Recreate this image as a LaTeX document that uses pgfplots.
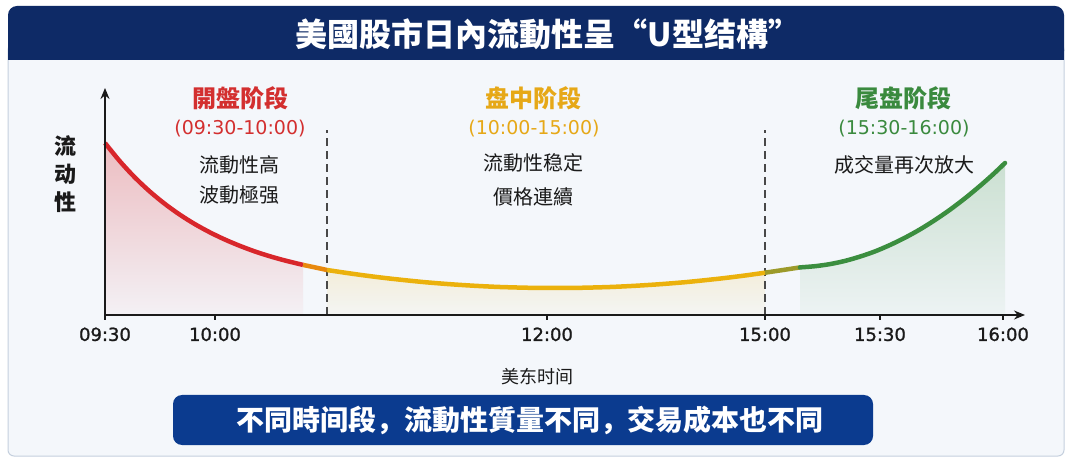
\documentclass[border=0pt]{standalone}
\usepackage{fontspec}
\usepackage{pgfplots}
\pgfplotsset{compat=1.18}
\usetikzlibrary{arrows.meta}
\setmainfont{Noto Sans CJK SC}
\newfontfamily\num{DejaVu Sans}
\newfontfamily\numb{DejaVu Sans}[FakeBold=1.2]
\definecolor{navy}{HTML}{0E2A66}
\definecolor{bannerb}{HTML}{0B3B8F}
\definecolor{panelbg}{HTML}{F4F7FB}
\definecolor{panelb}{HTML}{C5D0DE}
\definecolor{cred}{HTML}{D8262B}
\definecolor{cyel}{HTML}{EBB10C}
\definecolor{cgrn}{HTML}{3B8E3F}
\definecolor{corg}{HTML}{E8890E}
\definecolor{cog}{HTML}{9C9A2A}
\definecolor{tred}{HTML}{D32F2F}
\definecolor{tyel}{HTML}{E6A817}
\definecolor{tgrn}{HTML}{3A8A3E}
\definecolor{txt}{HTML}{1A1A1A}
\pgfplotstableread{
x y
105 172
120 153.6
135 137.4
150 123.3
165 111.0
180 100.2
195 90.8
210 82.6
225 75.4
240 69.1
255 63.5
270 58.7
285 54.5
303 50.1
}\redtab
\pgfplotstableread{
x y
303 50.1
315 47.6
327 45.0
}\orgtab
\pgfplotstableread{
x y
327 45.0
345 42.3
365 39.5
385 37.0
405 34.8
425 32.8
450 30.8
475 29.2
500 28.0
530 27.2
555 27.0
580 27.2
610 28.0
635 29.2
660 30.8
685 32.8
705 34.8
725 37.0
745 39.5
765 42.3
}\yeltab
\pgfplotstableread{
x y
765 42.3
783 45.0
800 47.6
}\ogtab
\pgfplotstableread{
x y
800 47.6
815 48.8
830 50.9
845 54.1
860 58.4
875 63.6
890 70.0
905 77.3
920 85.6
935 95.0
950 105.3
965 116.7
980 129.1
993 140.6
1005 152.0
}\grntab
\begin{document}
\begin{tikzpicture}[x=1pt,y=1pt]
\fill[white] (0,0) rectangle (1072,464);
\draw[draw=panelb, fill=panelbg, line width=1pt, rounded corners=6pt] (8,8) rectangle (1064,420);
\fill[navy, rounded corners=9pt] (8,404) rectangle (1064,458);
\fill[navy] (8,404) rectangle (1064,415);
\node[white, font=\bfseries\fontsize{32}{32}\selectfont] at (548,430) {美國股市日內流動性呈“U型结構”};
\begin{axis}[
  at={(105pt,149pt)}, anchor=south west,
  scale only axis, width=920pt, height=227pt,
  xmin=105, xmax=1025, ymin=0, ymax=227,
  axis lines=left, clip=false, axis on top,
  axis line style={line width=1.6pt, color=txt, -{Stealth[length=11pt,width=9pt]}},
  ytick=\empty,
  xtick={105,215,547,765,880,1003},
  xticklabels={09:30,10:00,12:00,15:00,15:30,16:00},
  tick align=outside, major tick length=5pt,
  tick style={line width=1.2pt, color=txt},
  xticklabel style={font=\numb\fontsize{18}{18}\selectfont, text=txt, yshift=-4pt},
]
\addplot[draw=none, top color=cred!28!panelbg, bottom color=cred!3!panelbg, smooth] table {\redtab} \closedcycle;
\addplot[draw=none, top color=cyel!14!panelbg, bottom color=cyel!3!panelbg, smooth] table {\yeltab} \closedcycle;
\addplot[draw=none, top color=cgrn!22!panelbg, bottom color=cgrn!4!panelbg, smooth] table {\grntab} \closedcycle;
\addplot[dash pattern=on 8pt off 5pt, color=txt!80, line width=1.5pt] coordinates {(327,0) (327,185)};
\addplot[dash pattern=on 8pt off 5pt, color=txt!80, line width=1.5pt] coordinates {(765,0) (765,185)};
\addplot[cred, line width=4.5pt, smooth] table {\redtab};
\addplot[corg, line width=4.5pt, smooth] table {\orgtab};
\addplot[cyel, line width=4.5pt, smooth] table {\yeltab};
\addplot[cog, line width=4.5pt, smooth] table {\ogtab};
\addplot[cgrn, line width=4.5pt, smooth, line cap=round] table {\grntab};
\end{axis}
% y label
\node[txt, font=\bfseries\fontsize{22}{28}\selectfont, align=center] at (65,290) {流\\动\\性};
% phase texts
\node[tred, font=\bfseries\fontsize{24}{24}\selectfont] at (240,366) {開盤阶段};
\node[tred, font=\num\fontsize{19}{19}\selectfont] at (240,335) {(09:30-10:00)};
\node[txt, font=\fontsize{20}{20}\selectfont] at (239,299) {流動性高};
\node[txt, font=\fontsize{20}{20}\selectfont] at (239,269) {波動極强};
\node[tyel, font=\bfseries\fontsize{24}{24}\selectfont] at (533,366) {盘中阶段};
\node[tyel, font=\num\fontsize{19}{19}\selectfont] at (534,335) {(10:00-15:00)};
\node[txt, font=\fontsize{20}{20}\selectfont] at (533,301) {流動性稳定};
\node[txt, font=\fontsize{20}{20}\selectfont] at (533,267) {價格連續};
\node[tgrn, font=\bfseries\fontsize{24}{24}\selectfont] at (903,366) {尾盘阶段};
\node[tgrn, font=\num\fontsize{19}{19}\selectfont] at (904,335) {(15:30-16:00)};
\node[txt, font=\fontsize{20}{20}\selectfont] at (904,299) {成交量再次放大};
% x axis title
\node[txt, font=\fontsize{18}{18}\selectfont] at (537,87) {美东时间};
% bottom banner
\fill[bannerb, rounded corners=9pt] (173,19) rectangle (873,69);
\node[white, font=\bfseries\fontsize{28}{28}\selectfont] at (530,44) {不同時间段，流動性質量不同，交易成本也不同};
\end{tikzpicture}
\end{document}
